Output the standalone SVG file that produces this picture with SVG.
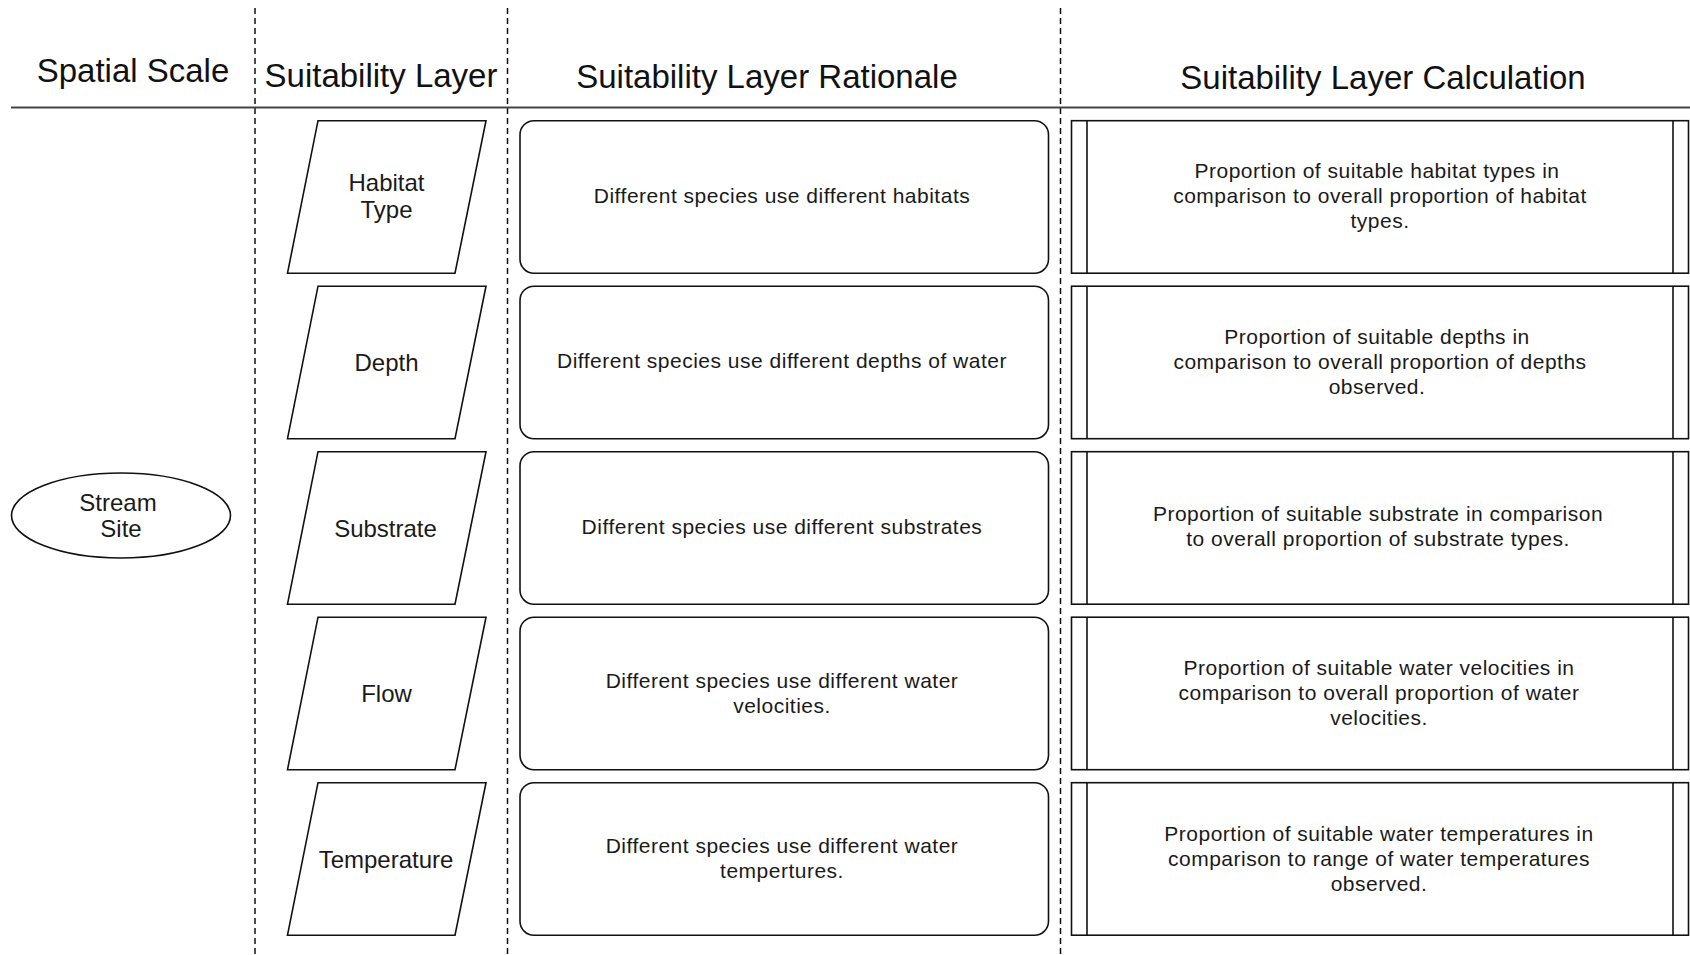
<svg xmlns="http://www.w3.org/2000/svg" width="1690" height="955" viewBox="0 0 1690 955">
<style>
.bg{fill:#fff}
.hd{font-family:"Liberation Sans",Arial,sans-serif;font-size:33px;fill:#111;text-anchor:middle}
.lb{font-family:"Liberation Sans",Arial,sans-serif;font-size:24px;fill:#1a1a1a;text-anchor:middle}
.tx{font-family:"Liberation Sans",Arial,sans-serif;font-size:21px;fill:#1a1a1a;text-anchor:middle;letter-spacing:0.5px}
.sh{fill:#fff;stroke:#111;stroke-width:1.6}
.dash{stroke:#111;stroke-width:1.5;stroke-dasharray:6 4;fill:none}
.rule{stroke:#444;stroke-width:2;fill:none}
.in{stroke:#111;stroke-width:1.6;fill:none}
</style>
<rect class="bg" x="0" y="0" width="1690" height="955"/>
<g id="grid">
<line class="dash" x1="255" y1="8" x2="255" y2="955"/>
<line class="dash" x1="507.5" y1="8" x2="507.5" y2="955"/>
<line class="dash" x1="1060.5" y1="8" x2="1060.5" y2="955"/>
<line class="rule" x1="11" y1="107.5" x2="1690" y2="107.5"/>
</g>
<g id="headers">
<text class="hd" x="133" y="82">Spatial Scale</text>
<text class="hd" x="381" y="87">Suitability Layer</text>
<text class="hd" x="767" y="88">Suitability Layer Rationale</text>
<text class="hd" x="1383" y="89">Suitability Layer Calculation</text>
</g>
<g id="stream-site">
<ellipse class="sh" cx="121" cy="515.5" rx="109.5" ry="42.5"/>
<text class="lb" x="118" y="511">Stream</text>
<text class="lb" x="121" y="537">Site</text>
</g>
<g id="layer-habitat">
<polygon class="sh" points="318,120.7 486,120.7 455,273.2 287.5,273.2"/>
<text class="lb" x="386.5" y="191">Habitat</text>
<text class="lb" x="386.5" y="218">Type</text>
</g>
<g id="layer-depth">
<polygon class="sh" points="318,286.2 486,286.2 455,438.7 287.5,438.7"/>
<text class="lb" x="386.5" y="370.5">Depth</text>
</g>
<g id="layer-substrate">
<polygon class="sh" points="318,451.7 486,451.7 455,604.2 287.5,604.2"/>
<text class="lb" x="385.5" y="537">Substrate</text>
</g>
<g id="layer-flow">
<polygon class="sh" points="318,617.2 486,617.2 455,769.7 287.5,769.7"/>
<text class="lb" x="386.5" y="702">Flow</text>
</g>
<g id="layer-temperature">
<polygon class="sh" points="318,782.7 486,782.7 455,935.2 287.5,935.2"/>
<text class="lb" x="386" y="868">Temperature</text>
</g>
<g id="rationale-habitat">
<rect class="sh" x="520" y="120.7" width="528.5" height="152.5" rx="14"/>
<text class="tx" x="782" y="202.5">Different species use different habitats</text>
</g>
<g id="rationale-depth">
<rect class="sh" x="520" y="286.2" width="528.5" height="152.5" rx="14"/>
<text class="tx" x="782" y="368">Different species use different depths of water</text>
</g>
<g id="rationale-substrate">
<rect class="sh" x="520" y="451.7" width="528.5" height="152.5" rx="14"/>
<text class="tx" x="782" y="534">Different species use different substrates</text>
</g>
<g id="rationale-flow">
<rect class="sh" x="520" y="617.2" width="528.5" height="152.5" rx="14"/>
<text class="tx" x="782" y="687.5">Different species use different water</text>
<text class="tx" x="782" y="712.5">velocities.</text>
</g>
<g id="rationale-temperature">
<rect class="sh" x="520" y="782.7" width="528.5" height="152.5" rx="14"/>
<text class="tx" x="782" y="853">Different species use different water</text>
<text class="tx" x="782" y="878">tempertures.</text>
</g>
<g id="calc-habitat">
<rect class="sh" x="1071.5" y="120.7" width="617" height="152.5"/>
<line class="in" x1="1087" y1="120.7" x2="1087" y2="273.2"/>
<line class="in" x1="1673" y1="120.7" x2="1673" y2="273.2"/>
<text class="tx" x="1377" y="178">Proportion of suitable habitat types in</text>
<text class="tx" x="1380" y="203">comparison to overall proportion of habitat</text>
<text class="tx" x="1380" y="228">types.</text>
</g>
<g id="calc-depth">
<rect class="sh" x="1071.5" y="286.2" width="617" height="152.5"/>
<line class="in" x1="1087" y1="286.2" x2="1087" y2="438.7"/>
<line class="in" x1="1673" y1="286.2" x2="1673" y2="438.7"/>
<text class="tx" x="1377" y="343.5">Proportion of suitable depths in</text>
<text class="tx" x="1380" y="368.5">comparison to overall proportion of depths</text>
<text class="tx" x="1377" y="393.5">observed.</text>
</g>
<g id="calc-substrate">
<rect class="sh" x="1071.5" y="451.7" width="617" height="152.5"/>
<line class="in" x1="1087" y1="451.7" x2="1087" y2="604.2"/>
<line class="in" x1="1673" y1="451.7" x2="1673" y2="604.2"/>
<text class="tx" x="1378" y="521">Proportion of suitable substrate in comparison</text>
<text class="tx" x="1378" y="546">to overall proportion of substrate types.</text>
</g>
<g id="calc-flow">
<rect class="sh" x="1071.5" y="617.2" width="617" height="152.5"/>
<line class="in" x1="1087" y1="617.2" x2="1087" y2="769.7"/>
<line class="in" x1="1673" y1="617.2" x2="1673" y2="769.7"/>
<text class="tx" x="1379" y="675">Proportion of suitable water velocities in</text>
<text class="tx" x="1379" y="700">comparison to overall proportion of water</text>
<text class="tx" x="1379" y="725">velocities.</text>
</g>
<g id="calc-temperature">
<rect class="sh" x="1071.5" y="782.7" width="617" height="152.5"/>
<line class="in" x1="1087" y1="782.7" x2="1087" y2="935.2"/>
<line class="in" x1="1673" y1="782.7" x2="1673" y2="935.2"/>
<text class="tx" x="1379" y="841">Proportion of suitable water temperatures in</text>
<text class="tx" x="1379" y="866">comparison to range of water temperatures</text>
<text class="tx" x="1379" y="891">observed.</text>
</g>
</svg>
